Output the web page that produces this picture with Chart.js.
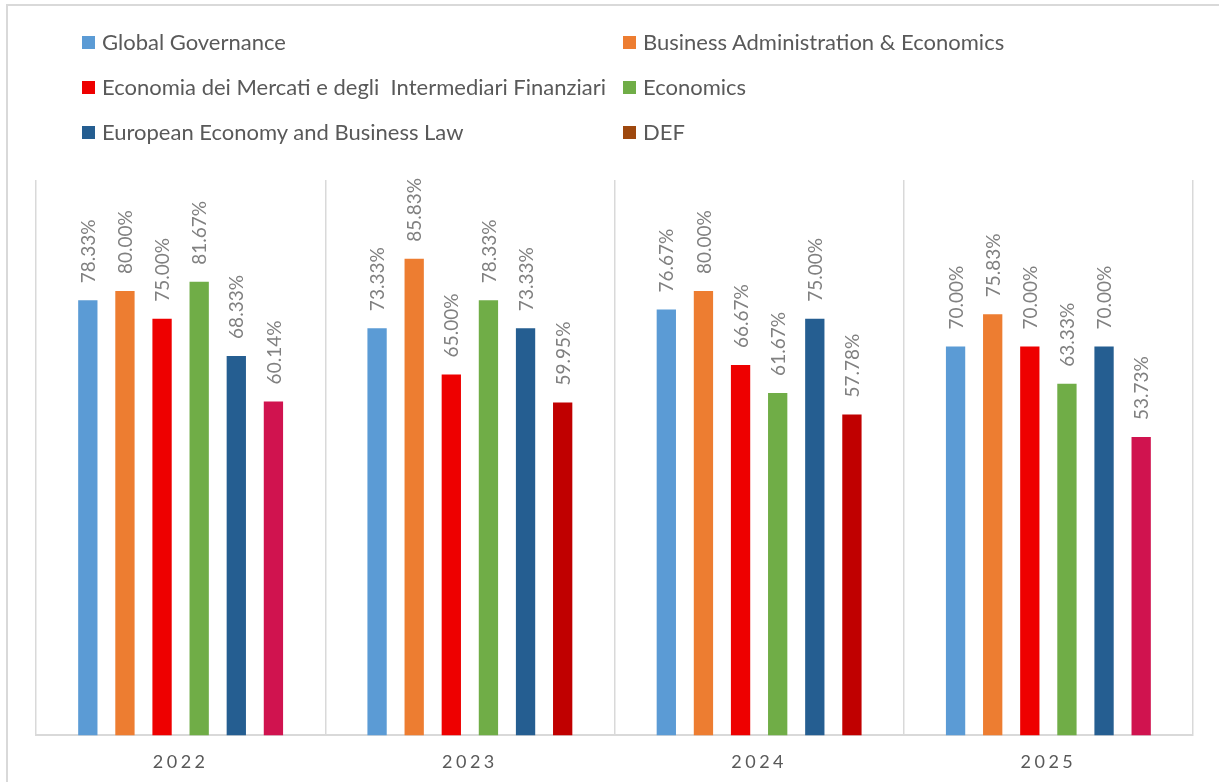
<!DOCTYPE html>
<html>
<head>
<meta charset="utf-8">
<script src="https://cdn.jsdelivr.net/npm/chart.js@4"></script>
<style>
  html, body { margin: 0; padding: 0; background: #fff; }
  #wrap { position: relative; width: 1219px; height: 782px; overflow: hidden; }
  #frame { position: absolute; left: 6px; top: 4px; width: 1300px; height: 900px;
           border-top: 2px solid #d9d9d9; border-left: 2px solid #d9d9d9; }
  #chart { position: absolute; left: 0; top: 0; }
  .legend { position: absolute; font-family: Lato, sans-serif; font-size: 22px; color: #595959;
            white-space: nowrap; }
  .legend span.box { display: inline-block; width: 13px; height: 13px; margin-right: 7px;
                     vertical-align: 1px; }
</style>
</head>
<body>
<div id="wrap">
  <div id="frame"></div>
  <canvas id="chart" width="1219" height="802"></canvas>
  <div id="legend"></div>
</div>
<script>
// years on the x axis
const years = ['2022', '2023', '2024', '2025'];

// programmes (series)
const programmes = [
  'Global Governance',
  'Business Administration & Economics',
  'Economia dei Mercati e degli  Intermediari Finanziari',
  'Economics',
  'European Economy and Business Law',
  'DEF'
];

// percentages per programme, one value per year
const globalGov = [78.33, 73.33, 76.67, 70.00];
const businessAdm = [80.00, 85.83, 80.00, 75.83];
const emif = [75.00, 65.00, 66.67, 70.00];
const economics = [81.67, 78.33, 61.67, 63.33];
const eebl = [68.33, 73.33, 75.00, 70.00];
const def = [60.14, 59.95, 57.78, 53.73];

const seriesValues = [globalGov, businessAdm, emif, economics, eebl, def];

const colors = ['#5b9bd5', '#ed7d31', '#ee0000', '#70ad47', '#255e91', '#9e480e'];
// the DEF bars are drawn in different reds per year
const defBarColors = ['#d0134f', '#c00000', '#c00000', '#d0134f'];

// html legend, two columns
const legendEl = document.getElementById('legend');
programmes.forEach((name, i) => {
  const d = document.createElement('div');
  d.className = 'legend';
  d.style.left = (i % 2 === 0 ? 82 : 623) + 'px';
  d.style.top = (28 + Math.floor(i / 2) * 45) + 'px';
  d.innerHTML = '<span class="box" style="background:' + colors[i] + '"></span>' +
    name.replace(/&/g, '&amp;').replace(/  /g, ' &nbsp;');
  legendEl.appendChild(d);
});

// rotated value labels above each bar
const valueLabels = {
  id: 'valueLabels',
  afterDatasetsDraw(chart) {
    const ctx = chart.ctx;
    ctx.save();
    ctx.letterSpacing = '0px';
    ctx.font = '19px Lato, sans-serif';
    ctx.fillStyle = '#808080';
    ctx.textAlign = 'left';
    ctx.textBaseline = 'middle';
    chart.data.datasets.forEach((ds, i) => {
      chart.getDatasetMeta(i).data.forEach((bar, j) => {
        ctx.save();
        ctx.translate(bar.x + 1, bar.y - 17);
        ctx.rotate(-Math.PI / 2);
        ctx.fillText(ds.data[j].toFixed(2) + '%', 0, 0);
        ctx.restore();
      });
    });
    ctx.restore();
  }
};

// spaced out year labels
const spacing = {
  id: 'spacing',
  beforeDraw(chart) { chart.ctx.letterSpacing = '3.5px'; },
  beforeDatasetsDraw(chart) { chart.ctx.letterSpacing = '0px'; }
};

new Chart(document.getElementById('chart'), {
  type: 'bar',
  data: {
    labels: years,
    datasets: seriesValues.map((vals, i) => ({
      label: programmes[i],
      data: vals,
      backgroundColor: i === 5 ? defBarColors : colors[i],
      borderWidth: 0,
      categoryPercentage: 0.77,
      barPercentage: 0.52
    }))
  },
  options: {
    responsive: false,
    animation: false,
    layout: { padding: { left: 36, right: 26, top: 180, bottom: 13 } },
    plugins: { legend: { display: false }, tooltip: { enabled: false } },
    scales: {
      x: {
        grid: { offset: true, color: '#d9d9d9', lineWidth: 1.5, drawTicks: false },
        border: { color: '#d9d9d9', width: 2 },
        ticks: { color: '#595959', font: { family: 'Lato', size: 18 }, padding: 16 }
      },
      y: { display: false, min: 0, max: 100 }
    }
  },
  plugins: [valueLabels, spacing]
});
</script>
</body>
</html>
